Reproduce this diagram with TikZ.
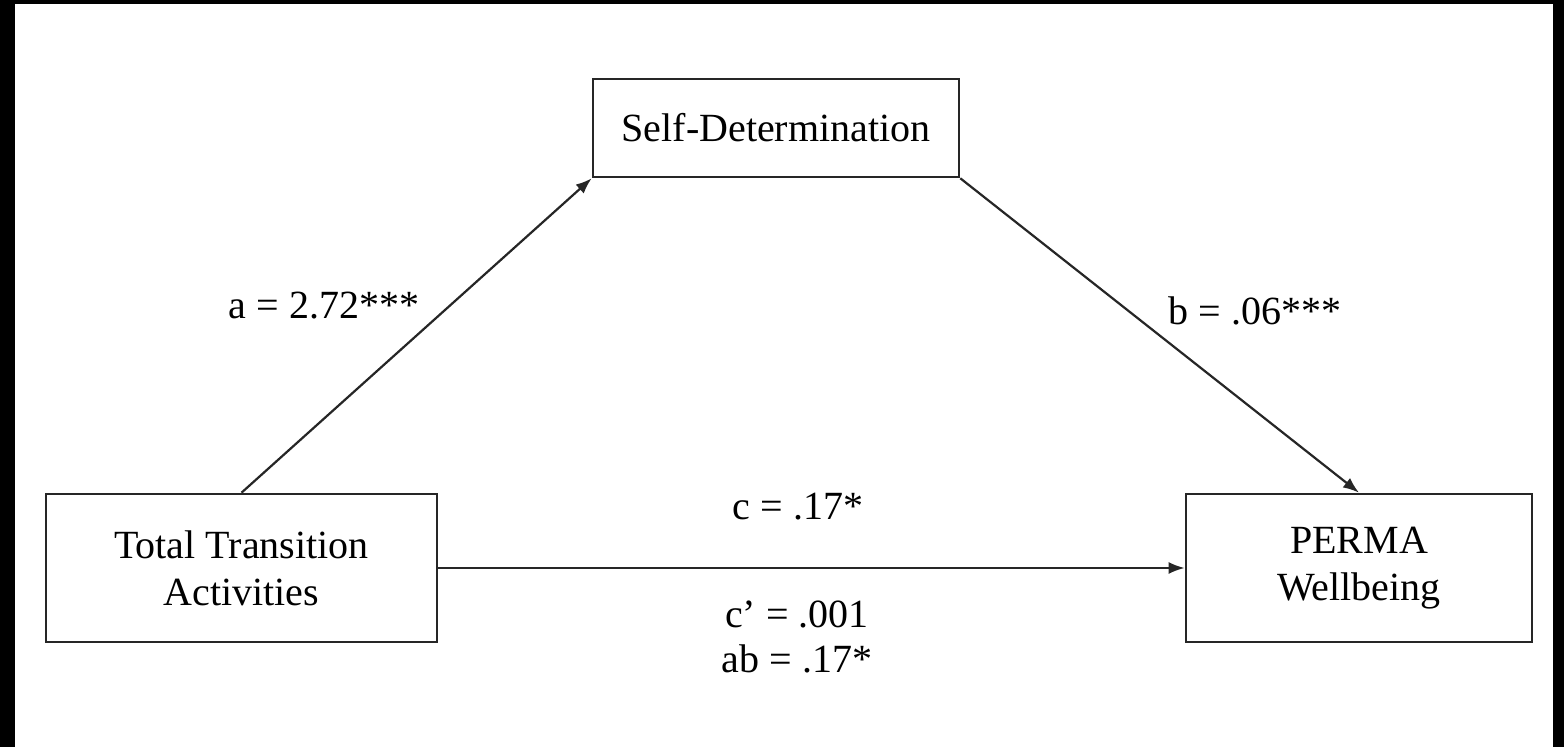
\documentclass[tikz,border=0pt]{standalone}
\usepackage{fontspec}
\setmainfont{Liberation Serif}
\usetikzlibrary{arrows.meta}
\begin{document}
\begin{tikzpicture}[x=0.5pt,y=-0.5pt,
  box/.style={draw=black!85,line width=1.3pt,inner sep=0pt,align=center,font=\fontsize{20}{23.5}\selectfont},
  lbl/.style={anchor=base,inner sep=0pt,font=\fontsize{20}{23}\selectfont},
  arr/.style={line width=1.1pt,draw=black!85,-{Latex[length=8pt,width=6pt]}}]
\fill[black] (0,0) rectangle (1564,747);
\fill[white] (15,4) rectangle (1553,747);
\useasboundingbox (0,0) rectangle (1564,747);
\node[box,minimum width=183pt,minimum height=49pt] (sd) at (776,128) {Self-Determination};
\node[box,minimum width=195.5pt,minimum height=74pt] (ta) at (241.5,568) {Total Transition\\Activities};
\node[box,minimum width=173pt,minimum height=74pt] (pw) at (1359,568) {PERMA\\Wellbeing};
\draw[arr] (ta.north) -- (sd.south west);
\draw[arr] (sd.south east) -- (pw.north);
\draw[arr] (ta.east) -- (pw.west);
\node[lbl] (la) at (324,319) {a = 2.72***};
\node[lbl] (lb) at (1255,325) {b = .06***};
\node[lbl] (lc) at (798,520) {c = .17*};
\node[lbl] (lcp) at (797,628) {c’ = .001};
\node[lbl] (lab) at (797,673) {ab = .17*};
\end{tikzpicture}
\end{document}
